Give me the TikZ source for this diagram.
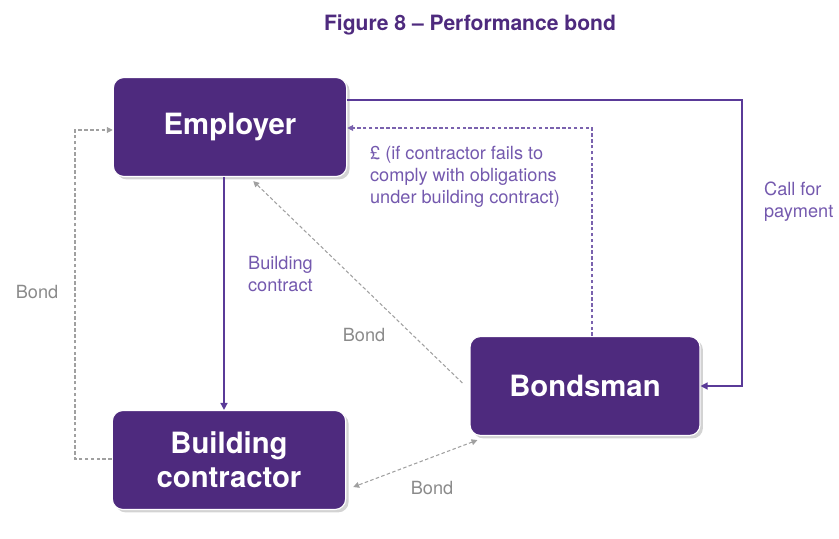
\documentclass[tikz,border=0pt]{standalone}
\usepackage{fontspec}
\setmainfont{TeX Gyre Heros}
\usetikzlibrary{calc,shadows,arrows.meta}

\definecolor{boxpurple}{HTML}{4E2A7E}
\definecolor{linepurple}{HTML}{5A3A98}
\definecolor{dashpurple}{HTML}{7A62AE}
\definecolor{textpurple}{HTML}{7459AE}
\definecolor{bondgray}{HTML}{8A8A8A}
\definecolor{bondline}{HTML}{A0A0A0}

\tikzset{
  party/.style={draw=white, line width=1pt, fill=boxpurple, rounded corners=9pt,
    text=white, align=center, font=\fontsize{25}{29}\selectfont\bfseries,
    minimum width=7cm, minimum height=2.97cm,
    drop shadow={opacity=0.35, shadow xshift=2.5pt, shadow yshift=-2.5pt}},
  solidlink/.style={draw=linepurple, line width=1.3pt, -{Triangle[length=6pt,width=6pt]}},
  paylink/.style={draw=dashpurple, line width=0.9pt, dash pattern=on 3pt off 2pt, -{Triangle[length=5pt,width=5pt]}},
  bondlink/.style={draw=bondline, line width=0.9pt, dash pattern=on 3pt off 2pt, -{Triangle[length=5pt,width=5pt]}},
  purplelabel/.style={text=textpurple, align=left, font=\fontsize{15.5}{19}\selectfont},
  graylabel/.style={text=bondgray, font=\fontsize{15.5}{19}\selectfont}
}

\begin{document}
\begin{tikzpicture}[x=0.03cm, y=-0.03cm]
    \useasboundingbox (0,0) rectangle (839,539);

    \node[text=boxpurple, font=\fontsize{18}{21}\selectfont\bfseries] (title) at (470,25) {Figure 8 -- Performance bond};

    \node[party] (employer) at (230,127) {Employer};
    \node[party] (contractor) at (229,460) {Building\\contractor};
    \node[party, minimum width=6.9cm] (bondsman) at (585,386) {Bondsman};

    \coordinate (callA) at (742,100);
    \coordinate (callB) at (742,386);
    \coordinate (payA) at (592,128);
    \coordinate (bondA) at (75,459);
    \coordinate (bondB) at (75,130);

    % employer calls on the bondsman
    \draw[solidlink] (employer.east |- callA) -- (callA) -- (callB) -- (bondsman.east);
    % bondsman pays out
    \draw[paylink] (bondsman.north -| payA) -- (payA) -- (employer.east |- payA);
    % building contract
    \draw[solidlink] ($(employer.south)+(-6,0)$) -- ($(contractor.north)+(-5,0)$);
    % bonds
    \draw[bondlink] (contractor.west |- bondA) -- (bondA) -- (bondB) -- (employer.west |- bondB);
    \draw[bondlink] ($(bondsman.west)+(-7,-3)$) -- ($(employer.south east)+(-94,4)$);
    \draw[bondlink, {Triangle[length=5pt,width=5pt]}-{Triangle[length=5pt,width=5pt]}] ($(bondsman.south west)+(8,4)$) -- ($(contractor.east)+(7,27)$);

    \node[purplelabel, anchor=north west] (calllabel) at (760,178) {Call for\\payment};
    \node[purplelabel, anchor=north west] (paylabel) at (366,142) {£ (if contractor fails to\\comply with obligations\\under building contract)};
    \node[purplelabel, anchor=north west] (contractlabel) at (244,252) {Building\\contract};
    \node[graylabel] (bondleft) at (37,292) {Bond};
    \node[graylabel] (bondmid) at (364,335) {Bond};
    \node[graylabel] (bondlow) at (432,488) {Bond};
\end{tikzpicture}
\end{document}
